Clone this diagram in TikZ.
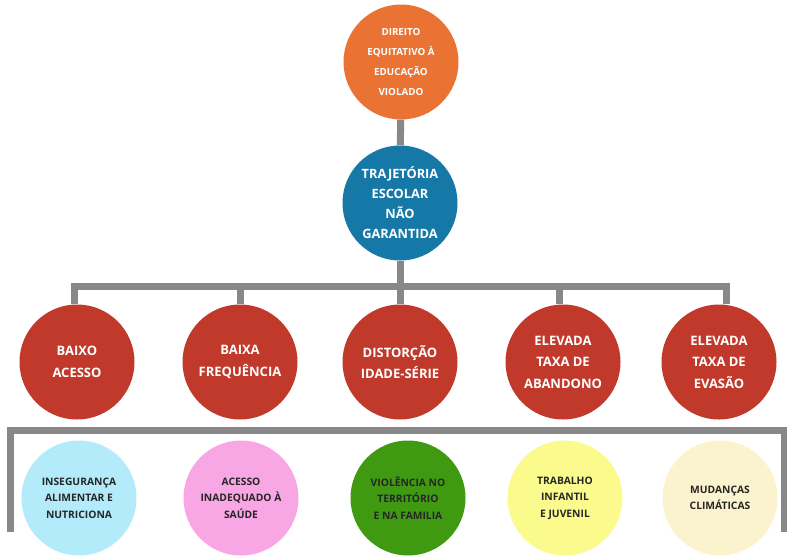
\documentclass[tikz,border=0pt]{standalone}
\usepackage{fontspec}
\setmainfont{Open Sans}
\usetikzlibrary{positioning}
\definecolor{linegray}{HTML}{888888}
\definecolor{topor}{HTML}{EA7233}
\definecolor{trajblue}{HTML}{1578A6}
\definecolor{effred}{HTML}{C0392B}
\definecolor{cLblue}{HTML}{B3EBFA}
\definecolor{cPink}{HTML}{F9A6E4}
\definecolor{cGreen}{HTML}{3F9A12}
\definecolor{cYellow}{HTML}{FAFA8D}
\definecolor{cCream}{HTML}{FBF3CD}
\tikzset{
  bubble/.style={circle, minimum size=115pt, inner sep=0pt, align=center},
  link/.style={draw=linegray, line width=7pt},
}
\begin{document}
\begin{tikzpicture}[x=1pt, y=-1pt]
            \useasboundingbox (0,0) rectangle (787,555);
            % top of the tree
            \node[bubble, fill=topor, text=white, font=\fontsize{9.8}{19.7}\selectfont\bfseries] (direito) at (401,62)
                {DIREITO\\EQUITATIVO À\\EDUCAÇÃO\\VIOLADO};
            \node[bubble, fill=trajblue, text=white, font=\fontsize{12.8}{20}\selectfont\bfseries] (traj) at (400,203)
                {TRAJETÓRIA\\ESCOLAR\\NÃO\\GARANTIDA};
            \draw[link] (direito) -- (traj);
            \coordinate (bar) at (400,286);
            % middle row
            \foreach \n/\x/\s/\t in {baixo/77/74/{BAIXO\\ACESSO}, freq/240/240/{BAIXA\\FREQUÊNCIA},
                    dist/400/400/{DISTORÇÃO\\IDADE-SÉRIE}, aband/563/559/{ELEVADA\\TAXA DE\\ABANDONO},
                    evas/719/726/{ELEVADA\\TAXA DE\\EVASÃO}}{
                \node[bubble, fill=effred, text=white, font=\fontsize{13}{21.5}\selectfont\bfseries] (\n) at (\x,362) {\t};
                \draw[link] (\n.north -| \s,0) -- (bar -| \s,0);}
            \draw[link, line cap=rect] (bar -| 74,0) -- (bar -| 726,0);
            \draw[link] (traj) -- (traj.south |- bar);
            % bottom row
            \coordinate (bl) at (10.5,532);
            \coordinate (br) at (784.5,532);
            \draw[link] (bl) -- (bl |- 0,430) -- (br |- 0,430) -- (br);
            \foreach \n/\x/\c/\t in {inseg/79/cLblue/{INSEGURANÇA\\ALIMENTAR E\\NUTRICIONA}, saude/241/cPink/{ACESSO\\INADEQUADO À\\SAÚDE},
                    viol/408/cGreen/{VIOLÊNCIA NO\\TERRITÓRIO\\E NA FAMILIA}, trab/565/cYellow/{TRABALHO\\INFANTIL\\E JUVENIL},
                    clima/720/cCream/{MUDANÇAS\\CLIMÁTICAS}}{
                \node[bubble, fill=\c, text=black!85, font=\fontsize{10.3}{16.5}\selectfont\bfseries] (\n) at (\x,498) {\t};}
        \end{tikzpicture}
\end{document}
